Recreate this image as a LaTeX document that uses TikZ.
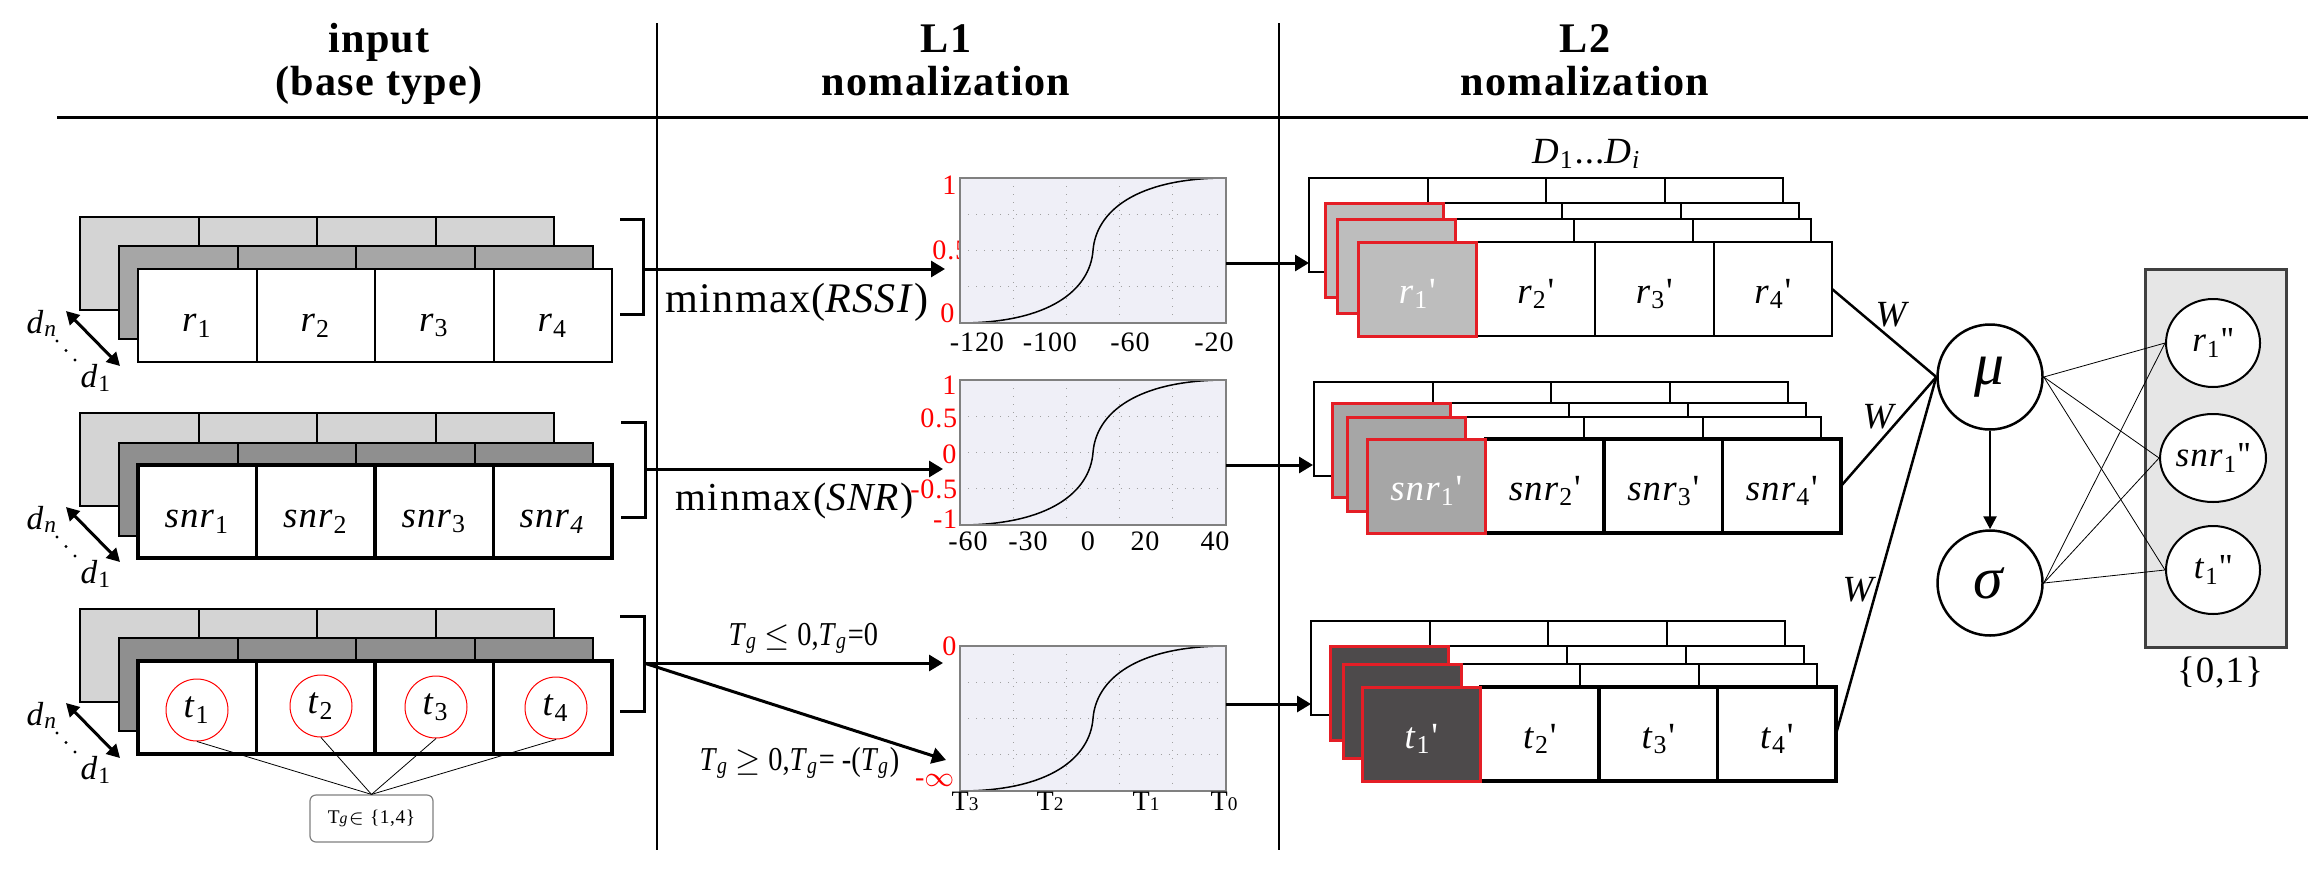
\documentclass[tikz,border=0pt]{standalone}
\usepackage{fontspec}
\setmainfont{Liberation Serif}[LetterSpace=3.0]
\newfontfamily\hdfont{Liberation Serif}[LetterSpace=3.0]
\newfontfamily\cfont{Liberation Serif}[FakeStretch=0.85]
\usetikzlibrary{arrows.meta,calc,shapes.geometric}
\definecolor{lgray}{HTML}{D4D4D4}
\definecolor{mgray}{HTML}{A6A6A6}
\definecolor{dgray}{HTML}{8F8F8F}
\definecolor{chartbg}{HTML}{EFEFF7}
\definecolor{redb}{HTML}{E41E26}
\definecolor{sone}{HTML}{BDBDBD}
\definecolor{stwo}{HTML}{A6A6A6}
\definecolor{sthree}{HTML}{4D4A4B}
\definecolor{outbg}{HTML}{E6E6E6}
\definecolor{gridc}{HTML}{A0A0A0}
\newcommand\fsz[1]{\fontsize{#1}{#1}\selectfont}
\newcommand\ii[2]{\textit{#1}\textsubscript{#2}}
\newcommand\pr{\textquotesingle}
\tikzset{
  cellbox/.style={draw=black, line width=0.2mm, minimum width=11.85mm, inner sep=0pt, outer sep=0pt, anchor=north west},
  thickbox/.style={line width=0.35mm},
  redcell/.style={draw=redb, line width=0.3mm},
  celltext/.style={font=\fsz{10.5}, inner sep=0pt},
  whitetext/.style={celltext, text=white},
  arr/.style={line width=0.3mm, -{Triangle[length=1.4mm,width=1.6mm]}},
  darr/.style={line width=0.3mm, {Triangle[length=1.3mm,width=1.4mm]}-{Triangle[length=1.3mm,width=1.4mm]}},
  chartnode/.style={draw=gray, line width=0.15mm, fill=chartbg, minimum width=26.6mm, minimum height=14.5mm, inner sep=0pt, outer sep=0pt, anchor=north west},
  griddot/.style={gridc, line width=0.1mm, dotted},
  ylab/.style={text=red, font=\fsz{8}, inner sep=0pt, anchor=east},
  xlab/.style={font=\fsz{8}, inner sep=0pt},
  hdr/.style={font=\hdfont\bfseries\fsz{12}, inner sep=0pt, anchor=base},
  mmlab/.style={font=\fsz{12}, inner sep=0pt, anchor=base west},
  tglab/.style={font=\cfont\fsz{9.5}, inner sep=0pt, anchor=base west},
  dlab/.style={font=\fsz{9.5}, inner sep=0pt, anchor=base west},
  tcirc/.style={circle, draw=red, line width=0.1mm, minimum size=6.2mm, inner sep=0pt, font=\fsz{10.5}},
  tgbox/.style={draw=gray, line width=0.12mm, rounded corners=0.6mm, minimum width=12.3mm, minimum height=4.7mm, inner sep=0pt, font=\fsz{5.5}},
  bigc/.style={circle, draw=black, line width=0.25mm, minimum size=10.5mm, inner sep=0pt, font=\fsz{17}},
  outc/.style={ellipse, draw=black, line width=0.2mm, fill=white, minimum width=9.4mm, minimum height=8.8mm, inner sep=0pt, font=\fsz{10}},
  wlab/.style={font=\fsz{10.5}, inner sep=0pt},
  thinl/.style={line width=0.08mm},
  brk/.style={line width=0.3mm},
}
% layer of four cells: x, y, fill, name, height, extra style
\newcommand\mylayer[6]{%
  \foreach \k in {0,1,2,3}{%
    \node[cellbox, minimum height=#5, fill=#3, #6] (#4\k) at ({#1+\k*118.5},{#2}) {};
  }%
}
% layer whose first cell is grey with a red border: x, y, fill, name, extra style
\newcommand\redlayer[5]{%
  \foreach \k in {1,2,3}{%
    \node[cellbox, minimum height=9.4mm, fill=white, #5] (#4\k) at ({#1+\k*118.5},{#2}) {};
  }%
  \node[cellbox, minimum height=9.4mm, fill=#3, redcell] (#40) at (#1,#2) {};
}
\newcommand\dmarks[2]{%
  \coordinate (#2a) at (66,#1+42);
  \coordinate (#2b) at (120,#1+97);
  \draw[darr] (#2a) -- (#2b);
  \node[dlab] (#2n) at (26,#1+64) {\textit{d}\textsubscript{\textit{n}}};
  \node[dlab] (#2o) at (80,#1+118) {\textit{d}\textsubscript{1}};
  \foreach \q in {0,1,2} \fill ({57+\q*9},{#1+72+\q*9.5}) circle (1.6);
}
\newcommand\mychart[3]{%
  \node[chartnode] (#3) at (#1,#2) {};
  \foreach \i in {1,2,3,4} \draw[griddot] ($(#3.north west)+(\i*53.2,0)$) -- ($(#3.south west)+(\i*53.2,0)$);
  \foreach \j in {1,2,3} \draw[griddot] ($(#3.north west)+(0,\j*36.25)$) -- ($(#3.north east)+(0,\j*36.25)$);
  \draw[line width=0.15mm] (#3.south west) .. controls +(90,0) and +(-3,39) .. (#3.center) .. controls +(3,-39) and +(-90,0) .. (#3.north east);
  \draw[gray, line width=0.15mm] (#3.south west) rectangle (#3.north east);
}
\begin{document}
\begin{tikzpicture}[x=0.1mm,y=-0.1mm]
\useasboundingbox (0,0) rectangle (2308,871);
% ---------- header ----------
\coordinate (hl) at (57,117); \coordinate (hr) at (2308,117);
\draw[line width=0.3mm] (hl) -- (hr);
\coordinate (v1t) at (657,23); \coordinate (v1b) at (657,850);
\coordinate (v2t) at (1279,23); \coordinate (v2b) at (1279,850);
\draw[line width=0.2mm] (v1t) -- (v1b);
\draw[line width=0.2mm] (v2t) -- (v2b);
\node[hdr] (h1a) at (379,52) {input};
\node[hdr] (h1b) at (379,95) {(base type)};
\node[hdr] (h2a) at (946,52) {L1};
\node[hdr] (h2b) at (946,95) {nomalization};
\node[hdr] (h3a) at (1585,52) {L2};
\node[hdr] (h3b) at (1585,95) {nomalization};
% ---------- input rows ----------
\mylayer{80}{217}{lgray}{ra}{9.3mm}{}
\mylayer{119}{246}{mgray}{rb}{9.3mm}{}
\mylayer{138}{269}{white}{rc}{9.3mm}{}
\node[celltext] at ([yshift=-1mm]rc0.center) {\ii{r}{1}};
\node[celltext] at ([yshift=-1mm]rc1.center) {\ii{r}{2}};
\node[celltext] at ([yshift=-1mm]rc2.center) {\ii{r}{3}};
\node[celltext] at ([yshift=-1mm]rc3.center) {\ii{r}{4}};
\dmarks{269}{da}
\mylayer{80}{413}{lgray}{sa}{9.3mm}{}
\mylayer{119}{443}{dgray}{sb}{9.3mm}{}
\mylayer{138}{465}{white}{sc}{9.3mm}{thickbox}
\node[celltext] at ([yshift=-1mm]sc0.center) {\ii{snr}{1}};
\node[celltext] at ([yshift=-1mm]sc1.center) {\ii{snr}{2}};
\node[celltext] at ([yshift=-1mm]sc2.center) {\ii{snr}{3}};
\node[celltext] at ([yshift=-1mm]sc3.center) {\ii{snr}{\textit{4}}};
\dmarks{465}{db}
\mylayer{80}{609}{lgray}{ta}{9.3mm}{}
\mylayer{119}{638}{dgray}{tb}{9.3mm}{}
\mylayer{138}{661}{white}{tc}{9.3mm}{thickbox}
\dmarks{661}{dc}
\node[tcirc] (t1) at (197,710) {\ii{t}{1}};
\node[tcirc] (t2) at (321,706) {\ii{t}{2}};
\node[tcirc] (t3) at (436,707) {\ii{t}{3}};
\node[tcirc] (t4) at (556,708) {\ii{t}{4}};
\node[tgbox] (tg) at (371.5,818.5) {T{\fsz{4.5}\textit{g}}$\in$ \{1,4\}};
\foreach \c in {t1,t2,t3,t4} \draw[thinl] (\c.south) -- (tg.north);
% brackets
\draw[brk] (620,219) -- (643,219) -- (643,314) -- (620,314);
\draw[brk] (621,422) -- (645,422) -- (645,517) -- (621,517);
\draw[brk] (620,616) -- (644,616) -- (644,711) -- (620,711);
\coordinate (bk1) at (643,269);
\coordinate (bk2) at (645,469);
\coordinate (bk3) at (644,663);
% ---------- L1 charts ----------
\node[ylab] (c1y2) at (970,250) {0.5};
\mychart{960}{178}{c1}
\node[ylab] (c1y1) at (957,185) {1};
\node[ylab] (c1y3) at (955,313) {0};
\node[xlab] (c1x1) at (977,342) {-120};
\node[xlab] (c1x2) at (1050,342) {-100};
\node[xlab] (c1x3) at (1130,342) {-60};
\node[xlab] (c1x4) at (1214,342) {-20};
\mychart{960}{380}{c2}
\node[ylab] (c2y1) at (957,385) {1};
\node[ylab] (c2y2) at (958,418) {0.5};
\node[ylab] (c2y3) at (957,454) {0};
\node[ylab] (c2y4) at (958,489) {-0.5};
\node[ylab] (c2y5) at (958,519) {-1};
\node[xlab] (c2x1) at (968,541) {-60};
\node[xlab] (c2x2) at (1028,541) {-30};
\node[xlab] (c2x3) at (1088,541) {0};
\node[xlab] (c2x4) at (1145,541) {20};
\node[xlab] (c2x5) at (1215,541) {40};
\mychart{960}{646}{c3}
\node[ylab] (c3y1) at (957,646) {0};
\node[ylab] (c3y2) at (955,780) {-$\infty$};
\node[xlab] (c3x1) at (965,801) {T{\fsz{5.5}3}};
\node[xlab] (c3x2) at (1050,801) {T{\fsz{5.5}2}};
\node[xlab] (c3x3) at (1146,801) {T{\fsz{5.5}1}};
\node[xlab] (c3x4) at (1224,801) {T{\fsz{5.5}0}};
% arrows into L1
\coordinate (a1) at (945,269);
\coordinate (a2) at (943,469);
\coordinate (a3) at (943,663);
\coordinate (a4) at (946,760);
\draw[arr] (bk1) -- (a1);
\draw[arr] (bk2) -- (a2);
\draw[arr] (bk3) -- (a3);
\draw[arr] (bk3) -- (a4);
\node[mmlab] (m1) at (665,312) {minmax(\textit{RSSI})};
\node[mmlab, font=\fsz{11.3}] (m2) at (675,510) {minmax(\textit{SNR})};
\node[tglab] (g1) at (728,645) {\textit{T}\textsubscript{\textit{g}} $\leq$ 0,\textit{T}\textsubscript{\textit{g}}=0};
\node[tglab] (g2) at (699,770) {\textit{T}\textsubscript{\textit{g}} $\geq$ 0,\textit{T}\textsubscript{\textit{g}}= -(\textit{T}\textsubscript{\textit{g}})};
% ---------- L2 stacks ----------
\node[font=\fsz{10.5}, inner sep=0pt, anchor=base] (dl) at (1587,163) {\textit{D}\textsubscript{1}...\textit{D}\textsubscript{\textit{i}}};
\mylayer{1309}{178}{white}{pa}{9.4mm}{}
\redlayer{1325}{203}{sone}{pb}{}
\redlayer{1337}{219}{sone}{pc}{}
\redlayer{1358}{242}{sone}{pd}{}
\node[whitetext] at ([yshift=-0.5mm]pd0.center) {\ii{r}{1}\pr};
\node[celltext] at ([yshift=-0.5mm]pd1.center) {\ii{r}{2}\pr};
\node[celltext] at ([yshift=-0.5mm]pd2.center) {\ii{r}{3}\pr};
\node[celltext] at ([yshift=-0.5mm]pd3.center) {\ii{r}{4}\pr};
\mylayer{1314}{382}{white}{qa}{9.4mm}{}
\redlayer{1332}{403}{stwo}{qb}{}
\redlayer{1347}{417}{stwo}{qc}{}
\redlayer{1367}{439}{stwo}{qd}{thickbox}
\node[whitetext] at ([yshift=-0.5mm]qd0.center) {\ii{snr}{1}\pr};
\node[celltext] at ([yshift=-0.5mm]qd1.center) {\ii{snr}{2}\pr};
\node[celltext] at ([yshift=-0.5mm]qd2.center) {\ii{snr}{3}\pr};
\node[celltext] at ([yshift=-0.5mm]qd3.center) {\ii{snr}{4}\pr};
\mylayer{1311}{621}{white}{ua}{9.4mm}{}
\redlayer{1330}{646}{sthree}{ub}{}
\redlayer{1343}{664}{sthree}{uc}{}
\redlayer{1362}{687}{sthree}{ud}{thickbox}
\node[whitetext] at ([yshift=-0.5mm]ud0.center) {\ii{t}{1}\pr};
\node[celltext] at ([yshift=-0.5mm]ud1.center) {\ii{t}{2}\pr};
\node[celltext] at ([yshift=-0.5mm]ud2.center) {\ii{t}{3}\pr};
\node[celltext] at ([yshift=-0.5mm]ud3.center) {\ii{t}{4}\pr};
% arrows L1 -> L2
\coordinate (e1) at (1309,263);
\coordinate (e2) at (1313,465);
\coordinate (e3) at (1311,704);
\draw[arr] (c1.east |- e1) -- (e1);
\draw[arr] (c2.east |- e2) -- (e2);
\draw[arr] (c3.east |- e3) -- (e3);
% ---------- mu / sigma ----------
\node[bigc] (mu) at (1990,377) {\textit{μ}};
\node[bigc] (sg) at (1990,583) {\textit{σ}};
\draw[line width=0.25mm] (pd3.east) -- (mu.west);
\draw[line width=0.25mm] (qd3.east) -- (mu.west);
\draw[line width=0.25mm] (ud3.east) -- (mu.west);
\node[wlab] (w1) at (1893,315) {\textit{W}};
\node[wlab] (w2) at (1880,417) {\textit{W}};
\node[wlab] (w3) at (1860,590) {\textit{W}};
\draw[line width=0.25mm, -{Triangle[length=1.3mm,width=1.3mm]}] (mu) -- (sg);
% ---------- output ----------
\node[draw=black!75, fill=outbg, line width=0.25mm, minimum width=14.1mm, minimum height=37.8mm, anchor=north west, inner sep=0pt] (obox) at (2144,268) {};
\node[outc] (o1) at (2213,343) {\ii{r}{1}\pr\pr};
\node[outc] (o2) at (2213,458) {\ii{snr}{1}\pr\pr};
\node[outc] (o3) at (2213,570) {\ii{t}{1}\pr\pr};
\foreach \o in {o1,o2,o3} {\draw[thinl] (mu.east) -- (\o.west); \draw[thinl] (sg.east) -- (\o.west);}
\node[font=\fsz{10.5}, inner sep=0pt] (zo) at (2220,673) {\{0,1\}};
\end{tikzpicture}
\end{document}
